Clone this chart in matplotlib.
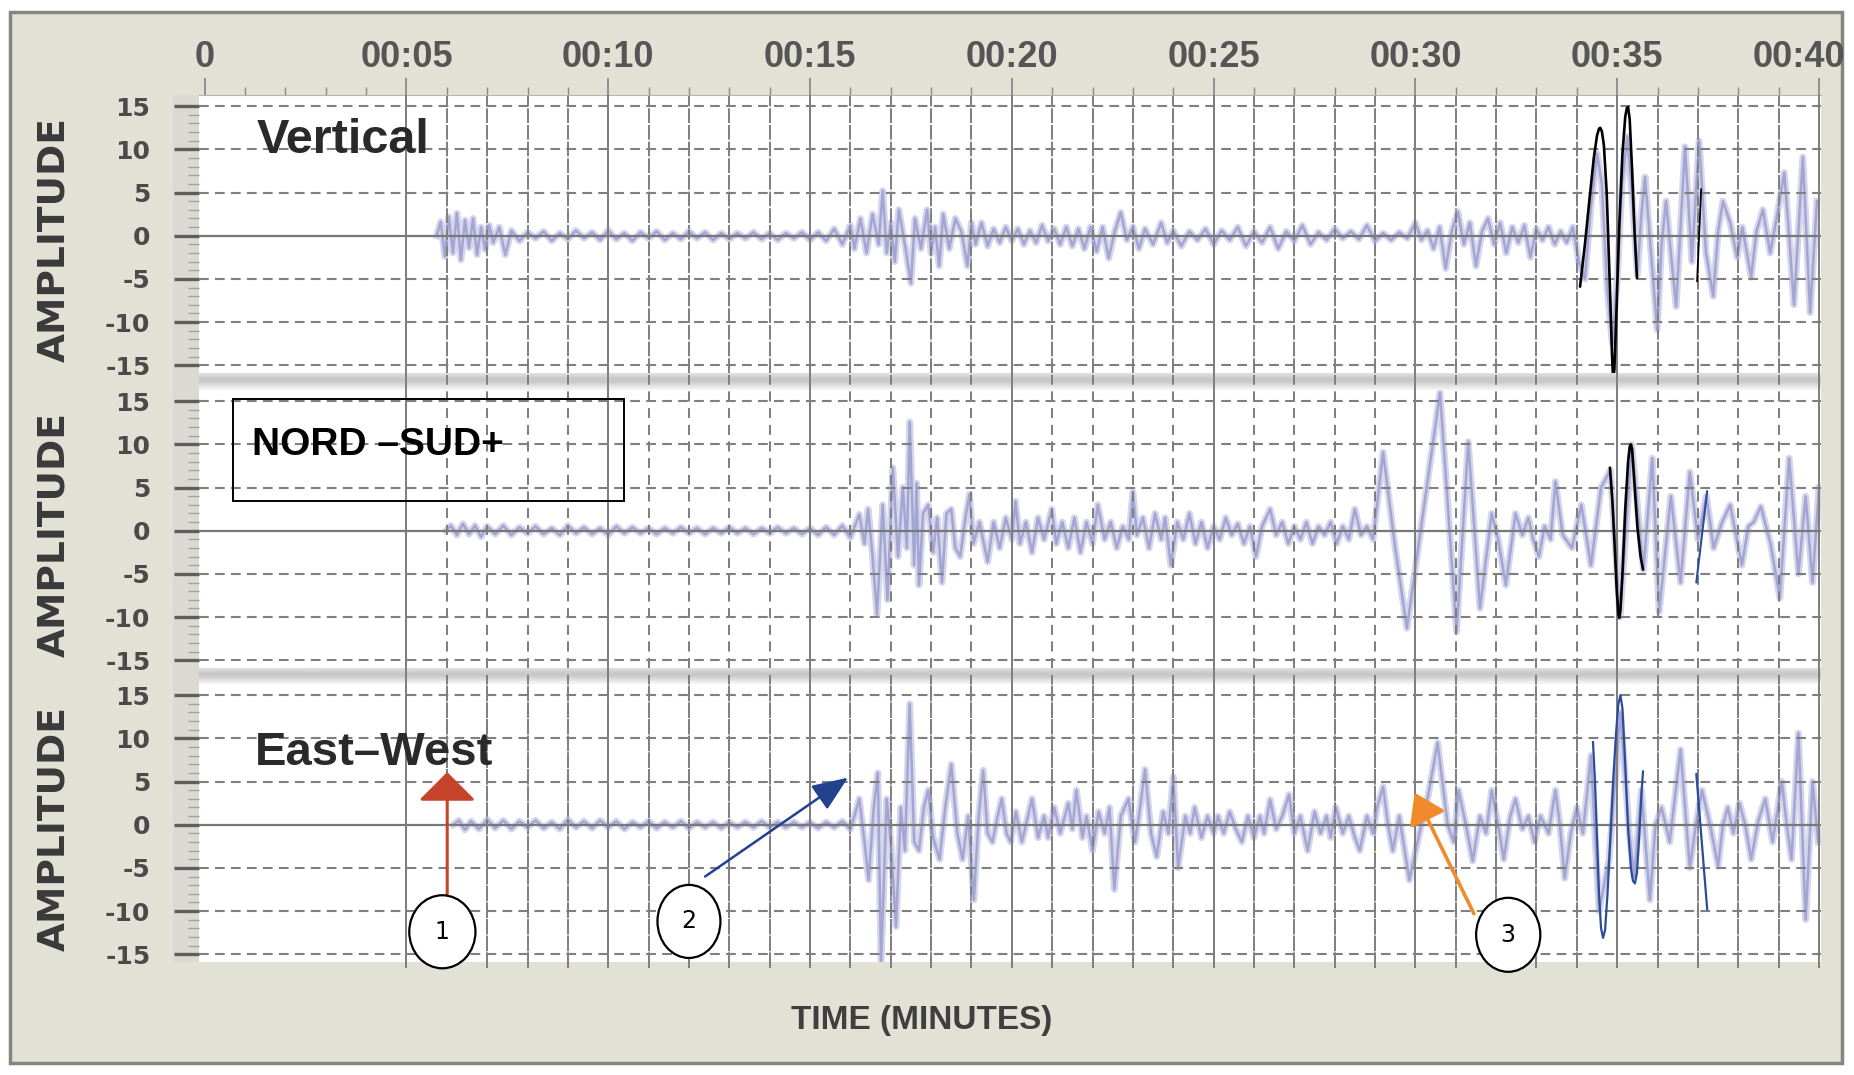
import matplotlib
matplotlib.use("Agg")
import matplotlib.pyplot as plt
import matplotlib.transforms as mtransforms
from matplotlib.patches import Ellipse, Rectangle

plt.rcParams['lines.scale_dashes'] = False

# ---- axes values
minute_ticks = [0, 5, 10, 15, 20, 25, 30, 35, 40]
minute_labels = ['0', '00:05', '00:10', '00:15', '00:20', '00:25', '00:30', '00:35', '00:40']
amp_ticks = [15, 10, 5, 0, -5, -10, -15]
amp_labels = ['15', '10', '5', '0', '-5', '-10', '-15']

# ---- seismogram traces: (minutes, amplitude)
vertical_trace = [
    (5.75, 0.0), (5.85, 1.6), (5.95, -2.4), (6.05, 2.2), (6.15, -2.0), (6.25, 2.6), (6.35, -2.8),
    (6.45, 1.8), (6.55, -1.4), (6.65, 2.0), (6.75, -2.2), (6.85, 1.0), (6.95, -1.6), (7.05, 1.2),
    (7.15, -0.8), (7.3, 1.0), (7.45, -2.2), (7.6, 0.6), (7.8, -0.6),
    (8.0, 0.4), (8.2, -0.3), (8.4, 0.5), (8.6, -0.6), (8.8, 0.3), (9.0, -0.4), (9.2, 0.6), (9.4, -0.3),
    (9.6, 0.4), (9.8, -0.5), (10.0, 0.6), (10.2, -0.4), (10.4, 0.3), (10.6, -0.6), (10.8, 0.4),
    (11.0, -0.3), (11.2, 0.5), (11.4, -0.5), (11.6, 0.3), (11.8, -0.4), (12.0, 0.5), (12.2, -0.3),
    (12.4, 0.4), (12.6, -0.5), (12.8, 0.3), (13.0, -0.4), (13.2, 0.3), (13.4, -0.3), (13.6, 0.4),
    (13.8, -0.4), (14.0, 0.3), (14.2, -0.5), (14.4, 0.3), (14.6, -0.3), (14.8, 0.4), (15.0, -0.5),
    (15.2, 0.4), (15.4, -0.6), (15.6, 0.8), (15.8, -1.0),
    (16.0, 1.2), (16.1, -1.5), (16.25, 2.0), (16.4, -2.0), (16.55, 2.5), (16.7, -1.0), (16.8, 5.2),
    (16.9, -2.0), (17.0, 1.5), (17.1, -3.0), (17.2, 3.0), (17.35, -1.0), (17.5, -5.5), (17.6, 2.0),
    (17.75, -1.5), (17.9, 3.0), (18.0, -2.0), (18.1, 1.0), (18.2, -3.5), (18.3, 2.5), (18.45, -1.5),
    (18.6, 2.0), (18.75, 0.5), (18.9, -3.5), (19.0, 1.5), (19.1, -1.0), (19.25, 1.5), (19.4, -1.2),
    (19.55, 0.8), (19.7, -0.8), (19.85, 1.0), (20.0, -0.6), (20.15, 0.8), (20.3, -1.0), (20.45, 0.6),
    (20.6, -0.8), (20.75, 1.2), (20.9, -0.6), (21.05, 0.8), (21.2, -1.0), (21.35, 1.0), (21.5, -1.2),
    (21.65, 0.8), (21.8, -1.5), (21.95, 1.0), (22.1, -1.8),
    (22.25, 1.0), (22.4, -2.6), (22.55, 0.5), (22.7, 2.7), (22.85, -0.5), (23.0, 1.0), (23.15, -1.5),
    (23.3, 0.8), (23.5, -1.0), (23.7, 1.5), (23.85, -0.8), (24.0, 0.6), (24.2, -1.2), (24.4, 0.5),
    (24.6, -0.5), (24.8, 0.8), (25.0, -1.0), (25.2, 0.6), (25.4, -0.5), (25.6, 1.0), (25.8, -1.2),
    (26.0, 0.5), (26.2, -0.8), (26.4, 1.0), (26.6, -1.5), (26.8, 0.5), (27.0, -0.6), (27.2, 1.2),
    (27.4, -1.0), (27.6, 0.4), (27.8, -0.5), (28.0, 0.8), (28.2, -0.3), (28.4, 0.5), (28.6, -0.4),
    (28.8, 1.2), (29.0, -0.6), (29.2, 0.3), (29.4, -0.5), (29.6, 0.4), (29.8, -0.3), (30.0, 1.5),
    (30.15, -0.5), (30.3, 0.6),
    (30.45, -1.5), (30.6, 1.0), (30.75, -3.8), (30.9, 0.5), (31.05, 2.8), (31.2, -1.0), (31.35, 1.5),
    (31.5, -3.5), (31.65, 0.5), (31.8, 2.0), (31.95, -1.0), (32.1, 1.5), (32.25, -2.0), (32.4, 1.0),
    (32.55, -0.8), (32.7, 1.2), (32.85, -2.5), (33.0, 0.8), (33.15, -0.5), (33.3, 1.0), (33.45, -1.0),
    (33.6, 0.5), (33.75, -0.8), (33.9, 1.0),
    (34.05, -3.0), (34.2, -5.0), (34.35, 3.5), (34.5, 9.5), (34.62, 6.0), (34.75, -6.0), (34.88, -12.5),
    (35.0, -5.0), (35.12, 6.0), (35.25, 11.5), (35.38, 4.0), (35.5, -4.5), (35.6, 2.5), (35.69, 6.8),
    (35.84, -2.0), (35.99, -10.9), (36.1, -1.0), (36.21, 4.0), (36.33, -2.0), (36.46, -8.2),
    (36.57, 1.0), (36.68, 10.3), (36.85, -3.0), (37.03, 11.0), (37.2, -2.0), (37.38, -7.0),
    (37.5, 0.5), (37.62, 4.0), (37.8, 1.5), (37.97, -2.5), (38.1, 1.0), (38.32, -4.8), (38.45, 0.5),
    (38.61, 3.0), (38.79, -2.0), (38.95, 2.0), (39.14, 7.3), (39.26, 0.0), (39.38, -8.0),
    (39.6, 9.1), (39.78, -8.9), (39.95, 4.0),
]

nord_sud_trace = [
    (5.98, 0.0), (6.1, 0.6), (6.25, -0.5), (6.4, 0.8), (6.55, -0.4), (6.7, 0.6), (6.85, -0.7),
    (7.0, 0.5), (7.2, -0.4), (7.4, 0.6), (7.6, -0.5), (7.8, 0.4), (8.0, -0.3), (8.2, 0.5), (8.4, -0.4),
    (8.6, 0.3), (8.8, -0.5), (9.0, 0.6), (9.2, -0.3), (9.4, 0.4), (9.6, -0.4), (9.8, 0.3), (10.0, -0.5),
    (10.2, 0.5), (10.4, -0.3), (10.6, 0.4), (10.8, -0.3), (11.0, 0.3), (11.2, -0.4), (11.4, 0.3),
    (11.6, -0.3), (11.8, 0.4), (12.0, -0.3), (12.2, 0.3), (12.4, -0.4), (12.6, 0.3), (12.8, -0.3),
    (13.0, 0.4), (13.2, -0.3), (13.4, 0.3), (13.6, -0.4), (13.8, 0.3), (14.0, -0.3), (14.2, 0.4),
    (14.4, -0.3), (14.6, 0.3), (14.8, -0.4), (15.0, 0.3), (15.2, -0.5), (15.4, 0.4), (15.6, -0.5),
    (15.8, 0.6), (16.0, -0.8),
    (16.22, 1.9), (16.35, -1.5), (16.44, 2.5), (16.55, -3.0), (16.66, -9.7), (16.8, 3.0), (16.92, -8.0),
    (17.05, 7.3), (17.18, -3.0), (17.3, 5.0), (17.4, -2.0), (17.47, 12.6), (17.58, -4.0), (17.64, 5.5),
    (17.7, -6.3), (17.8, 2.0), (17.93, 3.0), (18.05, -2.5), (18.15, 1.5), (18.27, -6.0), (18.38, 2.0),
    (18.5, 2.5), (18.6, -2.0), (18.72, -3.0), (18.85, 1.5), (18.95, 4.2), (19.05, -1.5), (19.2, 1.0),
    (19.4, -3.6), (19.55, 1.0), (19.7, -2.0), (19.85, 1.5), (20.0, -1.0), (20.09, 3.4), (20.2, -1.5),
    (20.35, 1.0), (20.5, -2.5), (20.65, 1.5), (20.8, -1.0), (20.99, 2.5), (21.1, -1.5), (21.25, 1.0),
    (21.4, -2.0), (21.55, 1.5), (21.7, -2.5), (21.85, 1.0), (22.0, -1.5), (22.13, 3.0), (22.3, -1.0),
    (22.45, 1.0), (22.6, -2.0), (22.75, 0.5), (22.9, -1.0), (23.0, 4.5), (23.1, -0.5), (23.25, 1.5),
    (23.4, -2.0), (23.55, 2.0), (23.7, -1.0), (23.8, 1.5), (23.94, -4.0), (24.1, 1.0), (24.25, -1.0),
    (24.4, 2.0), (24.55, -1.5), (24.7, 1.0), (24.85, -2.0), (25.0, 0.5), (25.15, -1.0), (25.3, 1.5),
    (25.45, -0.5), (25.6, 0.8), (25.75, -1.5), (25.9, 0.5), (26.05, -3.0), (26.2, 0.5), (26.4, 2.5),
    (26.55, -0.5), (26.7, 1.0), (26.85, -1.5), (27.0, 0.5), (27.15, -1.0), (27.3, 1.0), (27.45, -1.5),
    (27.6, 0.5), (27.75, -0.5), (27.9, 1.0), (28.05, -1.5), (28.2, 0.5), (28.35, -1.0), (28.5, 2.5),
    (28.65, -0.5), (28.8, 0.5), (28.95, -1.0), (29.2, 9.1), (29.5, -2.0), (29.79, -11.3),
    (30.61, 16.0), (31.02, -11.7), (31.31, 10.3), (31.6, -9.0), (31.89, 2.0), (32.05, -1.0),
    (32.24, -6.3), (32.48, 2.0), (32.65, -0.5), (32.8, 1.5), (32.92, -1.0), (33.06, -3.0), (33.2, 0.5),
    (33.35, -1.0), (33.47, 5.7), (33.65, -0.5), (33.88, -2.0), (34.11, 3.0), (34.35, -4.0),
    (34.6, 5.0), (34.83, 7.0), (35.07, -10.0), (35.36, 10.0), (35.65, -4.5), (35.87, 8.4),
    (36.04, -9.4), (36.33, 4.0), (36.57, -6.0), (36.8, 6.8), (37.0, -1.0), (37.21, 4.0), (37.39, -2.0),
    (37.6, 1.0), (37.8, 3.0), (38.09, -4.0), (38.25, 0.5), (38.38, 1.0), (38.56, 2.8), (38.8, -1.5),
    (39.03, -7.8), (39.26, 8.4), (39.49, -5.0), (39.67, 4.0), (39.84, -6.0), (40.0, 5.0),
]

east_west_trace = [
    (6.16, 0.0), (6.3, 0.5), (6.45, -0.6), (6.6, 0.4), (6.8, -0.5), (7.0, 0.6), (7.2, -0.4), (7.4, 0.5),
    (7.6, -0.5), (7.8, 0.4), (8.0, -0.3), (8.2, 0.5), (8.4, -0.4), (8.6, 0.3), (8.8, -0.5), (9.0, 0.6),
    (9.2, -0.3), (9.4, 0.4), (9.6, -0.4), (9.8, 0.5), (10.0, -0.3), (10.2, 0.4), (10.4, -0.5),
    (10.6, 0.3), (10.8, -0.3), (11.0, 0.4), (11.2, -0.4), (11.4, 0.3), (11.6, -0.3), (11.8, 0.4),
    (12.0, -0.4), (12.2, 0.3), (12.4, -0.3), (12.6, 0.3), (12.8, -0.4), (13.0, 0.3), (13.2, -0.3),
    (13.4, 0.3), (13.6, -0.3), (13.8, 0.4), (14.0, -0.3), (14.2, 0.3), (14.4, -0.3), (14.6, 0.3),
    (14.8, -0.3), (15.0, 0.3), (15.2, -0.4), (15.4, 0.3), (15.6, -0.3), (15.8, 0.4), (16.0, -0.5),
    (16.1, 1.0), (16.22, 3.0), (16.35, -2.0), (16.45, -6.4), (16.58, 2.0), (16.68, 6.0), (16.76, -16.0),
    (16.9, 3.0), (17.0, -2.0), (17.13, -11.8), (17.25, 2.0), (17.35, -3.0), (17.47, 14.0), (17.58, -2.0),
    (17.7, -3.0), (17.82, 2.0), (17.93, 4.0), (18.05, -1.5), (18.21, -4.0), (18.35, 2.0), (18.5, 7.0),
    (18.65, -1.0), (18.78, -4.0), (18.92, 1.0), (19.06, -8.7), (19.18, 1.0), (19.29, 6.3), (19.4, -1.0),
    (19.52, -2.0), (19.65, 1.0), (19.75, 3.0), (19.87, -1.0), (19.97, -2.0), (20.1, 1.5), (20.25, -2.0),
    (20.4, 1.0), (20.5, 3.0), (20.65, -1.5), (20.8, 1.0), (20.9, -1.5), (21.05, 2.0), (21.2, -1.0),
    (21.4, 2.5), (21.5, -0.5), (21.6, 4.0), (21.75, -1.5), (21.85, 1.0), (22.0, -3.0), (22.15, 1.5),
    (22.3, -1.0), (22.42, 2.0), (22.54, -7.5), (22.7, 1.0), (22.89, 3.0), (23.05, -2.0), (23.15, 1.0),
    (23.3, 6.4), (23.45, -1.0), (23.59, -3.7), (23.75, 1.5), (23.88, -1.0), (24.0, 5.6), (24.12, -5.0),
    (24.3, 1.0), (24.42, -1.0), (24.53, 2.0), (24.7, -1.5), (24.85, 1.0), (25.0, -1.0), (25.11, 1.0),
    (25.25, -1.0), (25.4, 1.5), (25.55, -0.5), (25.7, -2.0), (25.85, 1.0), (26.0, -1.5), (26.15, 1.0),
    (26.25, -1.0), (26.4, 2.9), (26.55, -0.5), (26.7, 1.0), (26.87, 3.5), (27.0, -1.0), (27.15, 1.0),
    (27.33, -3.0), (27.5, 1.5), (27.65, -1.0), (27.8, 1.0), (27.9, -1.5), (28.03, 2.0), (28.2, -1.0),
    (28.35, 1.0), (28.5, -1.5), (28.62, -3.0), (28.8, 1.0), (28.95, -1.0), (29.05, 2.0), (29.2, 4.4),
    (29.32, 0.0), (29.44, -3.0), (29.6, 1.0), (29.85, -6.4), (30.1, -1.0), (30.3, 3.0), (30.55, 9.5),
    (30.8, 0.0), (30.95, -2.0), (31.07, 4.0), (31.25, 0.0), (31.42, -4.2), (31.6, 1.0), (31.75, -1.0),
    (31.89, 4.0), (32.05, 0.0), (32.19, -4.0), (32.35, 1.0), (32.48, 3.0), (32.65, -0.5), (32.8, 1.0),
    (32.95, -2.0), (33.1, 1.0), (33.3, -1.0), (33.47, 4.0), (33.58, 0.0), (33.7, -6.2), (33.85, -1.0),
    (34.0, 2.0), (34.15, -1.0), (34.35, 8.0), (34.55, -10.0), (34.8, -4.0), (35.08, 13.0), (35.3, -1.0),
    (35.42, -6.0), (35.6, 4.0), (35.81, -8.7), (35.95, 0.0), (36.1, 2.0), (36.3, -2.0), (36.57, 8.7),
    (36.8, -5.0), (36.95, 0.0), (37.1, 4.0), (37.3, 0.0), (37.5, -4.8), (37.62, 0.0), (37.74, 2.0),
    (37.88, -1.0), (38.03, 2.5), (38.17, 0.0), (38.32, -4.0), (38.5, 0.5), (38.67, 3.0), (38.85, -2.0),
    (38.95, 1.0), (39.08, 5.0), (39.2, 0.0), (39.32, -4.0), (39.49, 10.6), (39.67, -11.0),
    (39.84, 5.0), (39.98, -2.0),
]

# ---- hand-drawn overlays
vertical_black = [
    (34.08, -5.9), (34.2, -1.0), (34.32, 4.5), (34.42, 9.0), (34.5, 11.6), (34.55, 12.4), (34.58, 12.5),
    (34.62, 12.1), (34.67, 10.5), (34.74, 5.0), (34.82, -6.0), (34.87, -13.5), (34.9, -16.9),
    (34.93, -15.5), (34.98, -9.0), (35.05, 1.0), (35.13, 9.5), (35.2, 13.8), (35.24, 14.8),
    (35.27, 14.9), (35.31, 13.5), (35.37, 7.5), (35.43, 0.5), (35.49, -4.9),
]
vertical_black_tail = [(36.98, -5.3), (37.08, 5.4)]
nord_sud_black = [
    (34.82, 7.3), (34.88, 3.5), (34.94, -2.0), (34.99, -7.0), (35.03, -9.6), (35.05, -10.1),
    (35.08, -9.2), (35.13, -5.0), (35.2, 2.5), (35.27, 8.0), (35.31, 9.7), (35.34, 10.0), (35.37, 9.4),
    (35.42, 6.0), (35.5, 0.5), (35.58, -3.0), (35.64, -4.5),
]
nord_sud_blue_tail = [(36.96, -6.0), (37.23, 4.6)]
east_west_blue = [
    (34.4, 9.6), (34.45, 5.0), (34.5, -1.5), (34.55, -8.0), (34.6, -12.0), (34.65, -13.1), (34.7, -12.2),
    (34.76, -8.0), (34.83, -1.5), (34.9, 5.0), (34.97, 10.5), (35.03, 14.0), (35.08, 15.0), (35.13, 13.5),
    (35.2, 7.0), (35.27, -0.5), (35.34, -5.0), (35.39, -6.5), (35.44, -6.8), (35.49, -5.5),
    (35.55, -1.0), (35.6, 3.5), (35.64, 6.2),
]
east_west_blue_tail = [(36.96, 5.9), (37.23, -9.8)]

# ---- numbered markers on the East-West panel
marker_labels = ['1', '2', '3']
marker_centres = [(5.89, -12.4), (12.0, -11.2), (32.3, -12.75)]
marker_sizes = [(1.64, 8.46), (1.56, 8.46), (1.59, 8.57)]
arrow_starts = [(6.01, -8.1), (12.4, -6.0), (31.45, -10.3)]
arrow_tips = [(6.01, 6.1), (15.94, 5.45), (29.98, 3.7)]
arrow_colors = ['#c8432b', '#22418f', '#f08a2a']
arrow_widths = [2.2, 1.8, 2.6]
arrow_heads = ['-|>,head_length=0.9,head_width=0.9', '-|>,head_length=1.1,head_width=0.45',
               '-|>,head_length=0.9,head_width=0.6']

# ---- layout (pixel boxes of the original picture)
W, H = 1854, 1075
XLIM = (-0.14, 40.05)
YLIM = (-15.9, 16.3)
GRID = '#7f7f7f'


def box(left, top, right, bottom):
    return [left / W, 1 - bottom / H, (right - left) / W, (bottom - top) / H]


def vgrid(ax, y0, y1, z):
    ax.vlines(minute_ticks[1:], y0, y1, color=GRID, lw=1.4, zorder=z)
    ax.vlines([m for m in range(6, 40) if m % 5], y0, y1, color=GRID, lw=1.4,
              linestyles=[(0, (7, 5))], zorder=z)


fig = plt.figure(figsize=(W / 100, H / 100), dpi=100)
fig.patch.set_facecolor('white')
fig.add_artist(Rectangle((10 / W, 1 - 1063 / H), 1832 / W, 1051 / H, transform=fig.transFigure,
                         facecolor='#e2e1d5', edgecolor='#86867e', lw=2.5, zorder=0))
fig.add_artist(Rectangle((173 / W, 1 - 962 / H), 26 / W, 867 / H, transform=fig.transFigure,
                         facecolor='#dbdad2', edgecolor='none', zorder=0.5))

# background axes: white panels, separators, vertical grid through the separators
bg = fig.add_axes(box(199, 95, 1821, 968), zorder=1)
bg.axis('off')
bg.add_patch(Rectangle((XLIM[0], 0), XLIM[1] - XLIM[0], 1, facecolor='white', edgecolor='none', zorder=0))
grad = [[0.87], [0.82], [0.78], [0.79], [0.84], [0.9], [0.95]]
for top_px, bot_px in [(373, 390), (668, 684)]:
    bg.imshow(grad, cmap='gray', vmin=0, vmax=1, aspect='auto', interpolation='bilinear',
              extent=(XLIM[0], XLIM[1], (968 - bot_px) / 873, (968 - top_px) / 873), zorder=0.5)
bg.add_patch(Rectangle((XLIM[0], 0), XLIM[1] - XLIM[0], 6 / 873, facecolor='#e2e1d5',
                       edgecolor='none', zorder=0.6))
bg.set_xlim(XLIM)
bg.set_ylim(0, 1)
vgrid(bg, 0, 1, 1)

panel_boxes = [box(199, 95, 1821, 373), box(199, 390, 1821, 668), box(199, 684, 1821, 962)]
axes = [fig.add_axes(b, zorder=2) for b in panel_boxes]
traces = [vertical_trace, nord_sud_trace, east_west_trace]

for ax, trace in zip(axes, traces):
    ax.set_facecolor('none')
    ax.set_xlim(XLIM)
    ax.set_ylim(YLIM)
    for s in ax.spines.values():
        s.set_visible(False)
    ax.set_xticks([])
    ax.set_yticks(amp_ticks, labels=amp_labels)
    ax.set_yticks(range(-15, 16), minor=True)
    ax.tick_params(axis='y', which='major', length=18, width=2.4, color='#5e5e5e', pad=17,
                   labelsize=18, labelcolor='#4a4a4a')
    ax.tick_params(axis='y', which='minor', length=8, width=1, color='#a0a0a0')
    for lab in ax.get_yticklabels():
        lab.set_fontweight('bold')
    # trace: soft wide stroke + lighter core, as in the blurred scan
    t, a = zip(*trace)
    ax.plot(t, a, color='#b3b5dc', lw=5.0, alpha=0.55, zorder=2, solid_joinstyle='round')
    ax.plot(t, a, color='#8386c2', lw=1.8, alpha=0.6, zorder=2.1, solid_joinstyle='round')
    # grid on top of the trace
    for v in amp_ticks:
        if v == 0:
            ax.axhline(v, color='#787878', lw=1.6, zorder=3)
        else:
            ax.axhline(v, color=GRID, lw=1.5, linestyle=(0, (7, 4.5)), zorder=3)
    vgrid(ax, YLIM[0], YLIM[1], 3)
    ax.text(-0.0894, 0.48, 'AMPLITUDE', transform=ax.transAxes, rotation=90, ha='center', va='center',
            fontsize=27, fontweight='bold', color='#3a3a3a')

ax1, ax2, ax3 = axes

# top time axis
ax1.spines['top'].set_visible(True)
ax1.spines['top'].set_color('#b5b5ad')
ax1.set_xticks(minute_ticks)
ax1.set_xticks(range(0, 41), minor=True)
ax1.tick_params(axis='x', which='both', top=True, bottom=False, labeltop=False, labelbottom=False,
                color='#8a8a8a')
ax1.tick_params(axis='x', which='major', length=12.5, width=1.3)
ax1.tick_params(axis='x', which='minor', length=6, width=1)
top_trans = mtransforms.blended_transform_factory(ax1.transData, ax1.transAxes)
for m, lab in zip(minute_ticks, minute_labels):
    tr = top_trans
    if m == minute_ticks[-1]:
        tr = top_trans + mtransforms.ScaledTranslation(-0.2, 0, fig.dpi_scale_trans)
    ax1.text(m, 1.1, lab, transform=tr, ha='center', va='baseline', fontsize=26, fontweight='bold',
             color='#555555', family='Liberation Sans', clip_on=False)


# overlays
def draw(ax, pts, color, lw):
    t, a = zip(*pts)
    ax.plot(t, a, color=color, lw=lw, zorder=4, solid_capstyle='round')


draw(ax1, vertical_black, 'black', 1.9)
draw(ax1, vertical_black_tail, 'black', 1.3)
draw(ax2, nord_sud_black, 'black', 1.9)
draw(ax2, nord_sud_blue_tail, '#2b4c9a', 1.5)
draw(ax3, east_west_blue, '#2b4c9a', 1.6)
draw(ax3, east_west_blue_tail, '#2b4c9a', 1.6)

# panel titles
ax1.text(1.3, 9.6, 'Vertical', fontsize=35, fontweight='bold', color='#2a2a2a',
         family='Liberation Sans', va='baseline', zorder=5)
ax3.text(1.25, 6.95, 'East\u2013West', fontsize=34, fontweight='bold', color='#2a2a2a',
         family='Liberation Sans', va='baseline', zorder=5)
ax2.add_patch(Rectangle((0.71, 3.4), 9.68, 11.8, fill=False, edgecolor='black', lw=1.4, zorder=5))
ax2.text(1.18, 8.8, 'NORD \u2013SUD+', fontsize=28, fontweight='bold', color='black',
         family='Liberation Sans', va='baseline', zorder=5)

# arrows and numbered circles
for start, tip, col, lw, style in zip(arrow_starts, arrow_tips, arrow_colors, arrow_widths, arrow_heads):
    ax3.annotate('', xy=tip, xytext=start, zorder=5,
                 arrowprops=dict(arrowstyle=style, color=col, lw=lw, mutation_scale=20,
                                 shrinkA=0, shrinkB=0))
for lab, (ct, ca), (w, h) in zip(marker_labels, marker_centres, marker_sizes):
    ax3.add_patch(Ellipse((ct, ca), w, h, facecolor='white', edgecolor='black', lw=1.6,
                          zorder=6, clip_on=False))
    ax3.text(ct, ca, lab, ha='center', va='center', fontsize=17, zorder=7, color='black')

fig.text(922 / W, 1 - 1020 / H, 'TIME (MINUTES)', ha='center', va='center', fontsize=24,
         fontweight='bold', color='#3f3f3f', family='Liberation Sans')

fig.savefig('out.png', dpi=100)
